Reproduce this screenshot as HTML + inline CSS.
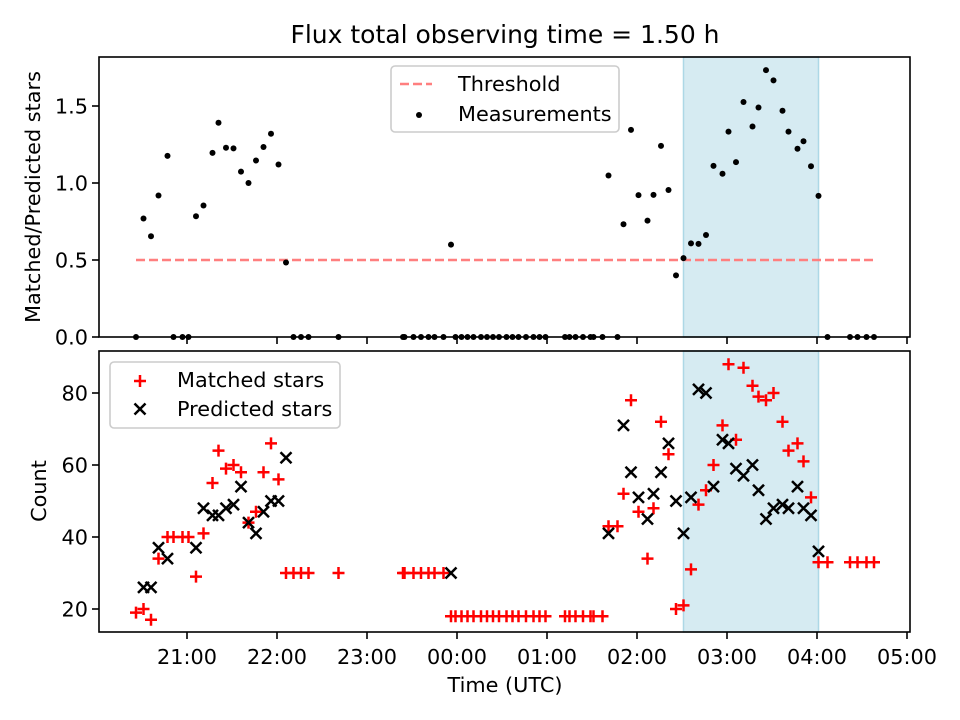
<!DOCTYPE html>
<html><head><meta charset="utf-8"><style>
html,body{margin:0;padding:0;background:#fff;}
svg{display:block;font-family:"DejaVu Sans","Liberation Sans",sans-serif;}
</style></head><body>
<svg id="chart" width="960" height="720" viewBox="0 0 960 720"></svg>
<script>
// minutes since 20:00 UTC
const times = [26,31,36,41,47,51,57,61,66,71,77,81,86,91,96,101,106,111,116,121,126,131,136,141,161,
 204,205,211,216,221,225,231,236,
 239,243,247,251,256,260,264,268,273,277,281,286,291,295,299,
 312,315,319,324,329,331,337,
 341,347,351,356,361,367,371,376,381,386,391,396,401,406,411,417,421,426,431,437,441,446,451,457,461,467,471,476,481,
 487,502,507,513,518];
const matched = [19,20,17,34,40,40,40,40,29,41,55,64,59,60,58,44,47,58,66,56,30,30,30,30,30,
 30,30,30,30,30,30,30,18,
 18,18,18,18,18,18,18,18,18,18,18,18,18,18,18,
 18,18,18,18,18,18,18,
 43,43,52,78,47,34,48,72,63,20,21,31,49,53,60,71,88,67,87,82,79,78,80,72,64,66,61,51,33,
 33,33,33,33,33];
const predicted = [null,26,26,37,34,null,null,null,37,48,46,46,48,49,54,44,41,47,50,50,62,null,null,null,null,
 null,null,null,null,null,null,null,30,
 null,null,null,null,null,null,null,null,null,null,null,null,null,null,null,
 null,null,null,null,null,null,null,
 41,null,71,58,51,45,52,58,66,50,41,51,81,80,54,67,66,59,57,60,53,45,48,49,48,54,48,46,36,
 null,null,null,null,null];
const threshold = 0.5;
const windowStart = 391; // 02:31
const windowEnd = 481;   // 04:01
const xTickLabels = ["21:00","22:00","23:00","00:00","01:00","02:00","03:00","04:00","05:00"];
const xTickMinutes = [60,120,180,240,300,360,420,480,540];
const topTicks = [0,0.5,1.0,1.5];
const botTicks = [20,40,60,80];

const NS="http://www.w3.org/2000/svg";
const svg=document.getElementById('chart');
function el(tag,attrs,parent){const e=document.createElementNS(NS,tag);for(const k in attrs)e.setAttribute(k,attrs[k]);(parent||svg).appendChild(e);return e;}
const L=99,R=910;
const T1=57,B1=337,T2=351,B2=632;
const FS=20.8;
const xs=m=>97+1.5*m;
const y1=v=>337-154*v;
const y2=v=>609-3.6*(v-20);

const title=el('text',{x:505,y:43,'text-anchor':'middle','font-size':25});
title.textContent='Flux total observing time = 1.50 h';



[[T1,B1],[T2,B2]].forEach((p,i)=>{
  const r=el('rect',{x:xs(windowStart),y:p[0],width:xs(windowEnd)-xs(windowStart),height:p[1]-p[0],fill:'#add8e6','fill-opacity':0.5,stroke:'#add8e6','stroke-width':1.5});
  
  
});

const th=el('line',{x1:xs(times[0]),x2:xs(times[times.length-1]),y1:y1(threshold),y2:y1(threshold),stroke:'#ff7f7f','stroke-width':2.5,'stroke-dasharray':'9,4'});



times.forEach((t,i)=>{
  const p=predicted[i];
  const ratio=p?matched[i]/p:0;
  const c=el('circle',{cx:xs(t),cy:y1(ratio),r:3,fill:'#000'});
  
  
});

times.forEach((t,i)=>{
  const x=xs(t),y=y2(matched[i]);
  const g=el('path',{d:`M${x-6},${y}H${x+6}M${x},${y-6}V${y+6}`,stroke:'#ff0000','stroke-width':2.5});
  
  
});
times.forEach((t,i)=>{
  if(predicted[i]==null)return;
  const x=xs(t),y=y2(predicted[i]);
  const g=el('path',{d:`M${x-5.5},${y-5.5}L${x+5.5},${y+5.5}M${x-5.5},${y+5.5}L${x+5.5},${y-5.5}`,stroke:'#000','stroke-width':2.5});
  
  
});

[[T1,B1,'top-axes-frame'],[T2,B2,'bottom-axes-frame']].forEach(p=>{
  const r=el('rect',{x:L,y:p[0],width:R-L,height:p[1]-p[0],fill:'none',stroke:'#000','stroke-width':1.6});
  
  
});

xTickMinutes.forEach((m,i)=>{
  const x=xs(m);
  el('line',{x1:x,x2:x,y1:B1,y2:B1+7,stroke:'#000','stroke-width':1.6});
  el('line',{x1:x,x2:x,y1:B2,y2:B2+7,stroke:'#000','stroke-width':1.6});
  const tx=el('text',{x:x,y:B2+32,'text-anchor':'middle','font-size':FS});
  tx.textContent=xTickLabels[i];
  
  
});
topTicks.forEach(v=>{
  const y=y1(v);
  el('line',{x1:L-7,x2:L,y1:y,y2:y,stroke:'#000','stroke-width':1.6});
  const tx=el('text',{x:L-11,y:y+7.5,'text-anchor':'end','font-size':FS});
  tx.textContent=v.toFixed(1);
  
  
});
botTicks.forEach(v=>{
  const y=y2(v);
  el('line',{x1:L-7,x2:L,y1:y,y2:y,stroke:'#000','stroke-width':1.6});
  const tx=el('text',{x:L-11,y:y+7.5,'text-anchor':'end','font-size':FS});
  tx.textContent=String(v);
  
  
});

const xl=el('text',{x:505,y:692,'text-anchor':'middle','font-size':FS});
xl.textContent='Time (UTC)';


const yl1=el('text',{x:0,y:0,'text-anchor':'middle','font-size':FS,transform:'translate(40,197) rotate(-90)'});
yl1.textContent='Matched/Predicted stars';


const yl2=el('text',{x:0,y:0,'text-anchor':'middle','font-size':FS,transform:'translate(46,491) rotate(-90)'});
yl2.textContent='Count';



const lg1=el('g',{});


el('rect',{x:391,y:66,width:228,height:66,rx:4,fill:'#fff','fill-opacity':0.8,stroke:'#ccc','stroke-width':1.6},lg1);
el('line',{x1:400,x2:432,y1:84,y2:84,stroke:'#ff7f7f','stroke-width':2.5,'stroke-dasharray':'9,4'},lg1);
el('circle',{cx:419,cy:115,r:3,fill:'#000'},lg1);
const t1=el('text',{x:458,y:91,'font-size':FS},lg1);t1.textContent='Threshold';


const t2=el('text',{x:458,y:121,'font-size':FS},lg1);t2.textContent='Measurements';



const lg2=el('g',{});


el('rect',{x:110,y:362,width:230,height:66,rx:4,fill:'#fff','fill-opacity':0.8,stroke:'#ccc','stroke-width':1.6},lg2);
el('path',{d:'M134,381H146M140,375V387',stroke:'#ff0000','stroke-width':2.5},lg2);
el('path',{d:'M134.5,403.5L145.5,414.5M134.5,414.5L145.5,403.5',stroke:'#000','stroke-width':2.5},lg2);
const t3=el('text',{x:177,y:387,'font-size':FS},lg2);t3.textContent='Matched stars';


const t4=el('text',{x:177,y:416,'font-size':FS},lg2);t4.textContent='Predicted stars';


</script>
</body></html>
